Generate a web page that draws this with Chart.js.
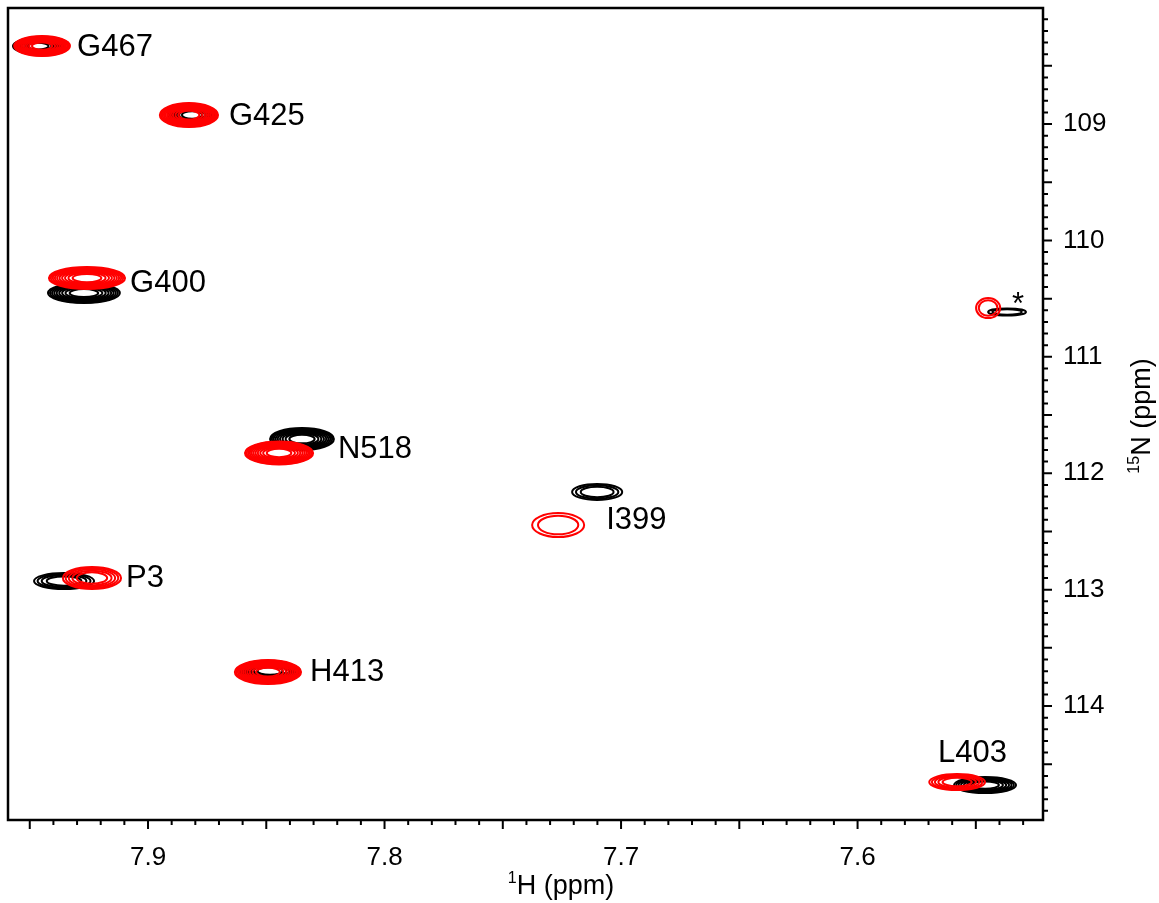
<!DOCTYPE html>
<html>
<head>
<meta charset="utf-8">
<script src="https://cdn.jsdelivr.net/npm/chart.js@4.4.1/dist/chart.umd.min.js"></script>
<style>
    html, body { margin: 0; padding: 0; background: #fff; }
    #wrap { width: 1159px; height: 903px; }
</style>
</head>
<body>
<div id="wrap"><canvas id="hsqc"></canvas></div>
<script>
// peak assignments
const peakNames = ['G467', 'G425', 'G400', 'N518', 'I399', 'P3', 'H413', 'L403', '*'];

// black spectrum: peak centres (ppm), half widths at base contour (ppm), contour levels
const blackH = [7.9465, 7.8814, 7.9271, 7.8349, 7.7101, 7.9355, 7.8484, 7.5461, 7.5368];
const blackN = [108.330, 108.923, 110.452, 111.706, 112.161, 112.926, 113.699, 114.679, 110.615];
const blackHalfH = [0.0106, 0.0101, 0.0152, 0.0135, 0.0106, 0.0127, 0.0127, 0.0131, 0.0080];
const blackHalfN = [0.069, 0.077, 0.086, 0.094, 0.069, 0.069, 0.077, 0.069, 0.030];
const blackLevels = [8, 8, 9, 9, 3, 4, 8, 7, 2];

// red spectrum
const redH = [7.9448, 7.8827, 7.9258, 7.8446, 7.7266, 7.9237, 7.8493, 7.5579, 7.5448];
const redN = [108.330, 108.923, 110.323, 111.826, 112.445, 112.900, 113.708, 114.653, 110.581];
const redHalfH = [0.0118, 0.0123, 0.0161, 0.0144, 0.0110, 0.0123, 0.0140, 0.0118, 0.0051];
const redHalfN = [0.086, 0.103, 0.094, 0.099, 0.103, 0.094, 0.103, 0.069, 0.086];
const redLevels = [11, 11, 10, 11, 2, 5, 11, 5, 2];

// label anchors (left edge, vertical middle)
const labelH = [7.9300, 7.8658, 7.9076, 7.8197, 7.7063, 7.9093, 7.8315, 7.5660, 7.5347];
const labelN = [108.339, 108.931, 110.366, 111.792, 112.402, 112.900, 113.708, 114.404, 110.555];

// axis ranges
const hRange = [7.5216, 7.9592];
const nRange = [108.003, 114.979];

const toPeaks = (hs, ns, wh, wn, lv) => hs.map((h, i) => ({ x: h, y: ns[i], w: wh[i], h: wn[i], n: lv[i] }));

const isMult = (v, step) => Math.abs(v / step - Math.round(v / step)) < 1e-6;

const contourPlugin = {
    id: 'contours',
    afterDatasetsDraw(chart) {
        const { ctx, chartArea: a } = chart;
        const xs = chart.scales.x, ys = chart.scales.y;
        ctx.save();
        ctx.beginPath();
        ctx.rect(a.left, a.top, a.right - a.left, a.bottom - a.top);
        ctx.clip();
        chart.data.datasets.forEach((ds) => {
            ctx.strokeStyle = ds.borderColor;
            ctx.lineWidth = 2;
            ds.data.forEach((p) => {
                const cx = xs.getPixelForValue(p.x);
                const cy = ys.getPixelForValue(p.y);
                const rx = Math.abs(xs.getPixelForValue(p.x + p.w) - cx);
                const ry = Math.abs(ys.getPixelForValue(p.y + p.h) - cy);
                for (let k = 0; k < p.n; k++) {
                    const f = Math.sqrt(1 - k / (p.n + 0.5));
                    ctx.beginPath();
                    ctx.ellipse(cx, cy, rx * f, ry * f, 0, 0, Math.PI * 2);
                    ctx.stroke();
                }
            });
        });
        ctx.restore();
    }
};

const decorPlugin = {
    id: 'decor',
    afterDraw(chart) {
        const { ctx, chartArea: a } = chart;
        const xs = chart.scales.x, ys = chart.scales.y;
        ctx.save();
        // frame
        ctx.strokeStyle = '#000';
        ctx.lineWidth = 2.5;
        ctx.strokeRect(a.left, a.top, a.right - a.left, a.bottom - a.top);
        // tick marks
        ctx.lineWidth = 2;
        ctx.beginPath();
        xs.ticks.forEach((t) => {
            const px = xs.getPixelForValue(t.value);
            const len = isMult(t.value, 0.05) ? 9 : 5;
            ctx.moveTo(px, a.bottom);
            ctx.lineTo(px, a.bottom + len);
        });
        ys.ticks.forEach((t) => {
            const py = ys.getPixelForValue(t.value);
            const len = isMult(t.value, 0.5) ? 9 : 5;
            ctx.moveTo(a.right, py);
            ctx.lineTo(a.right + len, py);
        });
        ctx.stroke();

        // peak labels
        ctx.fillStyle = '#000';
        ctx.font = '31px "Liberation Sans", Arial, sans-serif';
        ctx.textBaseline = 'middle';
        ctx.textAlign = 'left';
        peakNames.forEach((name, i) => {
            ctx.fillText(name, xs.getPixelForValue(labelH[i]), ys.getPixelForValue(labelN[i]));
        });

        // axis titles with superscript isotopes
        const drawTitle = (sup, main, cx, cy) => {
            ctx.font = '16px "Liberation Sans", Arial, sans-serif';
            const ws = ctx.measureText(sup).width;
            ctx.font = '27px "Liberation Sans", Arial, sans-serif';
            const wm = ctx.measureText(main).width;
            const x0 = cx - (ws + wm) / 2;
            ctx.textAlign = 'left';
            ctx.textBaseline = 'alphabetic';
            ctx.fillText(main, x0 + ws, cy + 10);
            ctx.font = '16px "Liberation Sans", Arial, sans-serif';
            ctx.fillText(sup, x0, cy - 1);
        };
        drawTitle('1', 'H (ppm)', 561, 884);
        ctx.translate(1140, 416);
        ctx.rotate(-Math.PI / 2);
        drawTitle('15', 'N (ppm)', 0, 0);
        ctx.restore();
    }
};

new Chart(document.getElementById('hsqc'), {
    type: 'scatter',
    data: {
        datasets: [
            { label: 'black', data: toPeaks(blackH, blackN, blackHalfH, blackHalfN, blackLevels), borderColor: '#000000', backgroundColor: '#000000', pointRadius: 0 },
            { label: 'red', data: toPeaks(redH, redN, redHalfH, redHalfN, redLevels), borderColor: '#ff0000', backgroundColor: '#ff0000', pointRadius: 0 }
        ]
    },
    options: {
        responsive: true,
        maintainAspectRatio: false,
        animation: false,
        layout: { padding: { left: 8, top: 8 } },
        plugins: { legend: { display: false }, tooltip: { enabled: false } },
        scales: {
            x: {
                type: 'linear',
                position: 'bottom',
                reverse: true,
                min: hRange[0],
                max: hRange[1],
                border: { display: false },
                grid: { display: false, drawTicks: false },
                ticks: {
                    stepSize: 0.01,
                    autoSkip: false,
                    includeBounds: false,
                    maxRotation: 0,
                    padding: 22,
                    color: '#000',
                    font: { family: '"Liberation Sans", Arial, sans-serif', size: 26 },
                    callback: (v) => (isMult(v, 0.1) ? v.toFixed(1) : '')
                },
                afterFit: (s) => { s.height = 83; s.paddingLeft = 0; s.paddingRight = 0; }
            },
            y: {
                type: 'linear',
                position: 'right',
                reverse: true,
                min: nRange[0],
                max: nRange[1],
                border: { display: false },
                grid: { display: false, drawTicks: false },
                ticks: {
                    stepSize: 0.1,
                    autoSkip: false,
                    includeBounds: false,
                    padding: 20,
                    color: '#000',
                    font: { family: '"Liberation Sans", Arial, sans-serif', size: 26 },
                    callback: (v) => (isMult(v, 1) ? String(Math.round(v)) : '')
                },
                afterFit: (s) => { s.width = 116; s.paddingTop = 0; s.paddingBottom = 0; }
            }
        }
    },
    plugins: [contourPlugin, decorPlugin]
});
</script>
</body>
</html>
